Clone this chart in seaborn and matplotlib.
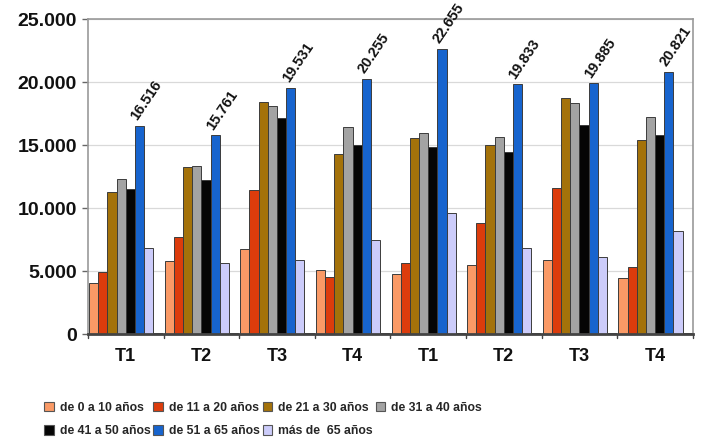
import numpy as np
import pandas as pd
import matplotlib
matplotlib.use("Agg")
import matplotlib.pyplot as plt
import seaborn as sns
from matplotlib.patches import Patch

# Quarters of two consecutive years
quarters = ["T1", "T2", "T3", "T4", "T1", "T2", "T3", "T4"]
years = [1, 1, 1, 1, 2, 2, 2, 2]

age_groups = [
    "de 0 a 10 años",
    "de 11 a 20 años",
    "de 21 a 30 años",
    "de 31 a 40 años",
    "de 41 a 50 años",
    "de 51 a 65 años",
    "más de  65 años",
    "no consta",
]

de_0_10 = [4020, 5820, 6720, 5080, 4760, 5450, 5870, 4420]
de_11_20 = [4950, 7720, 11430, 4500, 5610, 8780, 11560, 5290]
de_21_30 = [11300, 13280, 18440, 14290, 15530, 14970, 18700, 15400]
de_31_40 = [12280, 13300, 18100, 16450, 15930, 15660, 18310, 17200]
de_41_50 = [11480, 12220, 17120, 15000, 14870, 14470, 16590, 15800]
de_51_65 = [16516, 15761, 19531, 20255, 22655, 19833, 19885, 20821]
mas_65 = [6850, 5660, 5870, 7460, 9580, 6800, 6090, 8200]
no_consta = [110, 110, 110, 110, 110, 110, 110, 110]

colors = ["#FA9A66", "#DC3C0C", "#A4720A", "#A3A3A3",
          "#050505", "#1764CE", "#CCCCFA", "#3A3A34"]

series = [de_0_10, de_11_20, de_21_30, de_31_40, de_41_50, de_51_65, mas_65, no_consta]
periods = [f"{q}-{y}" for q, y in zip(quarters, years)]

rows = []
for name, vals in zip(age_groups, series):
    for p, v in zip(periods, vals):
        rows.append({"periodo": p, "edad": name, "valor": v})
df = pd.DataFrame(rows)

sns.set_theme(style="white")
plt.rcParams["font.family"] = ["Liberation Sans", "DejaVu Sans"]

fig = plt.figure(figsize=(7.15, 4.43), dpi=100)
ax = fig.add_axes([0.123, 0.246, 0.846, 0.711])

sns.barplot(data=df, x="periodo", y="valor", hue="edad",
            order=periods, hue_order=age_groups, palette=colors,
            width=0.97, dodge=True, gap=0, errorbar=None,
            edgecolor="#3c3c3c", linewidth=0.7, saturation=1,
            legend=False, ax=ax)

ax.set_ylim(0, 25000)
ax.set_xlim(-0.5, len(periods) - 0.5)
ax.set_yticks(np.arange(0, 25001, 5000))
ax.set_yticklabels([f"{v:,}".replace(",", ".") for v in range(0, 25001, 5000)],
                   fontsize=14, fontweight="bold", color="#111111")
ax.set_xticks(range(len(periods)))
ax.set_xticklabels(quarters, fontsize=13, fontweight="bold", color="#111111")
ax.tick_params(axis="x", length=0, pad=10)
ax.tick_params(axis="y", length=4, width=1, color="#666666", pad=4, left=True)
ax.set_xlabel("")
ax.set_ylabel("")

# group separators on the baseline
for b in np.arange(-0.5, len(periods), 1.0):
    ax.plot([b, b], [0, -350], color="#444444", lw=1, clip_on=False, zorder=5)

ax.yaxis.grid(True, color="#d9d9d9", lw=0.9)
ax.set_axisbelow(True)
for side in ["top", "right", "left"]:
    ax.spines[side].set_color("#999999")
    ax.spines[side].set_linewidth(1.2)
ax.spines["bottom"].set_color("#444444")
ax.spines["bottom"].set_linewidth(2)

# value labels on the 51-65 bars
blue = ax.containers[5]
for patch, val in zip(blue.patches, de_51_65):
    xc = patch.get_x() + patch.get_width() * 0.55
    ax.annotate(f"{val:,}".replace(",", "."), xy=(xc, patch.get_height()),
                xytext=(0, 2), textcoords="offset points",
                rotation=56, rotation_mode="anchor", ha="left", va="bottom",
                fontsize=10.5, fontweight="bold", color="#111111",
                annotation_clip=False)

# legend laid out row by row, tiny "no consta" series omitted
handles = [Patch(facecolor=c, edgecolor="#555555", linewidth=0.8)
           for c in colors[:7]]
labels = age_groups[:7]
order = [0, 4, 1, 5, 2, 6, 3]
fig.legend([handles[i] for i in order], [labels[i] for i in order],
           loc="upper left", bbox_to_anchor=(0.062, 0.093), ncol=4,
           frameon=False, handlelength=0.8, handleheight=0.8,
           handletextpad=0.45, columnspacing=0.25, labelspacing=0.95,
           prop={"family": ["Liberation Sans Narrow", "Liberation Sans"],
                 "weight": "bold", "size": 8.8},
           borderaxespad=0, borderpad=0)

fig.savefig("out.png", dpi=100)
